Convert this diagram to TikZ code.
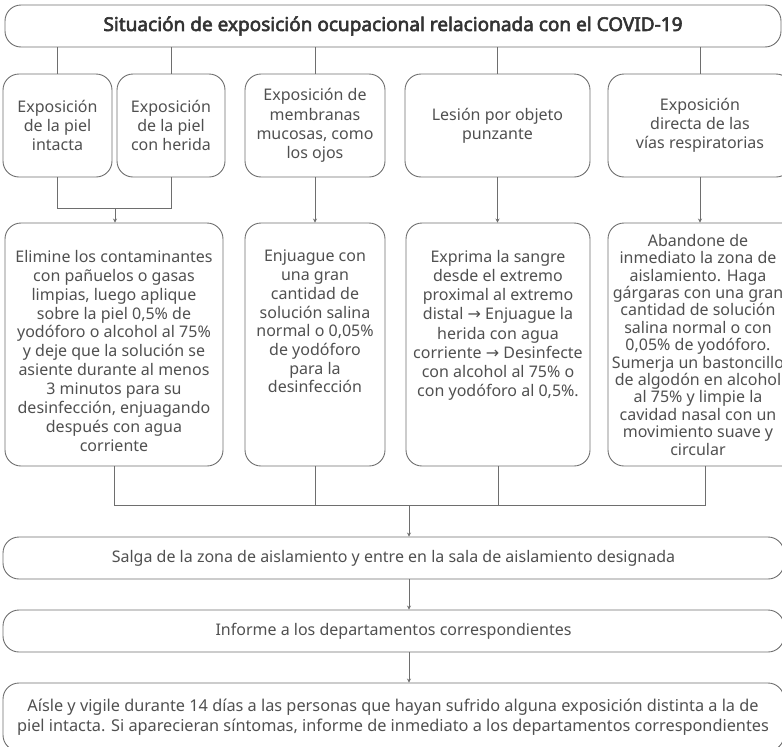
\documentclass[tikz,border=0pt]{standalone}
\usepackage{fontspec}
\setmainfont{Noto Sans}[AutoFakeBold=3]
\newfontfamily\symfont{DejaVu Sans}
\usetikzlibrary{arrows.meta}
\definecolor{ln}{HTML}{6E6E6E}
\definecolor{tx}{HTML}{505050}
\definecolor{tt}{HTML}{333333}
\begin{document}
\begin{tikzpicture}[x=1pt,y=-1pt,
  box/.style={draw=ln, line width=0.9pt, rounded corners=16pt, inner sep=0pt},
  txt/.style={text=tx, align=center, inner sep=0pt, font=\fontsize{16}{19.2}\selectfont},
  link/.style={draw=ln, line width=0.9pt},
  arr/.style={link, -{Stealth[length=4pt,width=4pt]}}]
\useasboundingbox (0,0) rectangle (782,747);
\clip (0,0) rectangle (782,747);
% top
\node[box, txt, text=tt, minimum width=776pt, minimum height=42pt, font=\fontsize{19}{21}\selectfont\bfseries] (top) at (393,26) {Situación de exposición ocupacional relacionada con el COVID-19};
% row 2
\node[box, txt, minimum width=109pt, minimum height=103pt] (b1) at (57.5,125.5) {Exposición\\de la piel\\intacta};
\node[box, txt, minimum width=108pt, minimum height=103pt] (b2) at (171,125.5) {Exposición\\de la piel\\con herida};
\node[box, txt, minimum width=140pt, minimum height=103pt] (b3) at (315,125.5) {Exposición de\\membranas\\mucosas, como\\los ojos};
\node[box, txt, minimum width=185pt, minimum height=103pt] (b4) at (497.5,125.5) {Lesión por objeto\\punzante};
\node[box, txt, minimum width=184pt, minimum height=103pt] (b5) at (700,125.5) {Exposición\\directa de las\\vías respiratorias};
% row 3 boxes
\node[box, minimum width=218pt, minimum height=243pt] (r1) at (114,344.5) {};
\node[box, minimum width=140pt, minimum height=243pt] (r2) at (315,344.5) {};
\node[box, minimum width=184pt, minimum height=243pt] (r3) at (498,344.5) {};
\node[box, minimum width=194pt, minimum height=243pt] (r4) at (705,344.5) {};
% row 3 texts
\node[txt, anchor=north, font=\fontsize{16}{18.9}\selectfont] (r1t) at (114,250) {Elimine los contaminantes\\con pañuelos o gasas\\limpias, luego aplique\\sobre la piel 0,5\% de\\yodóforo o alcohol al 75\%\\y deje que la solución se\\asiente durante al menos\\3 minutos para su\\desinfección, enjuagando\\después con agua\\corriente};
\node[txt, anchor=north, font=\fontsize{16}{18.7}\selectfont] (r2t) at (315,250) {Enjuague con\\una gran\\cantidad de\\solución salina\\normal o 0,05\%\\de yodóforo\\para la\\desinfección};
\node[txt, anchor=north, font=\fontsize{16}{19.2}\selectfont] (r3t) at (498,250) {Exprima la sangre\\desde el extremo\\proximal al extremo\\distal {\symfont →} Enjuague la\\herida con agua\\corriente {\symfont →} Desinfecte\\con alcohol al 75\% o\\con yodóforo al 0,5\%.};
\node[txt, anchor=north, font=\fontsize{16}{17.4}\selectfont] (r4t) at (698,234) {Abandone de\\inmediato la zona de\\aislamiento. Haga\\gárgaras con una gran\\cantidad de solución\\salina normal o con\\0,05\% de yodóforo.\\Sumerja un bastoncillo\\de algodón en alcohol\\al 75\% y limpie la\\cavidad nasal con un\\movimiento suave y\\circular};
% bottom
\node[box, txt, minimum width=781pt, minimum height=42pt] (s1) at (393.5,558) {Salga de la zona de aislamiento y entre en la sala de aislamiento designada};
\node[box, txt, minimum width=781pt, minimum height=42pt] (s2) at (393.5,631) {Informe a los departamentos correspondientes};
\node[box, minimum width=781pt, minimum height=68pt] (s3) at (393.5,717) {};
\node[txt, font=\fontsize{16.3}{19.5}\selectfont] (s3t) at (393,717) {Aísle y vigile durante 14 días a las personas que hayan sufrido alguna exposición distinta a la de\\piel intacta. Si aparecieran síntomas, informe de inmediato a los departamentos correspondientes};
% connectors top -> row 2
\draw[link] (b1.north) -- (b1.north |- top.south);
\draw[link] (b2.north) -- (b2.north |- top.south);
\draw[link] (b3.north) -- (b3.north |- top.south);
\draw[link] (b4.north) -- (b4.north |- top.south);
\draw[link] (b5.north) -- (b5.north |- top.south);
% row 2 -> row 3
\coordinate (j1) at (115,208);
\draw[link] (b1.south) |- (b2.south |- j1) -- (b2.south);
\draw[arr] (j1) -- (j1 |- r1.north);
\draw[arr] (b3.south) -- (b3.south |- r2.north);
\draw[arr] (b4.south) -- (b4.south |- r3.north);
\draw[arr] (b5.south) -- (b5.south |- r4.north);
% row 3 -> s1
\coordinate (j2) at (409,505);
\draw[link] (r1.south) |- (r4.south |- j2) -- (r4.south);
\draw[link] (r2.south) -- (r2.south |- j2);
\draw[link] (r3.south) -- (r3.south |- j2);
\draw[arr] (j2) -- (j2 |- s1.north);
\draw[arr] (j2 |- s1.south) -- (j2 |- s2.north);
\draw[arr] (j2 |- s2.south) -- (j2 |- s3.north);
\end{tikzpicture}
\end{document}
